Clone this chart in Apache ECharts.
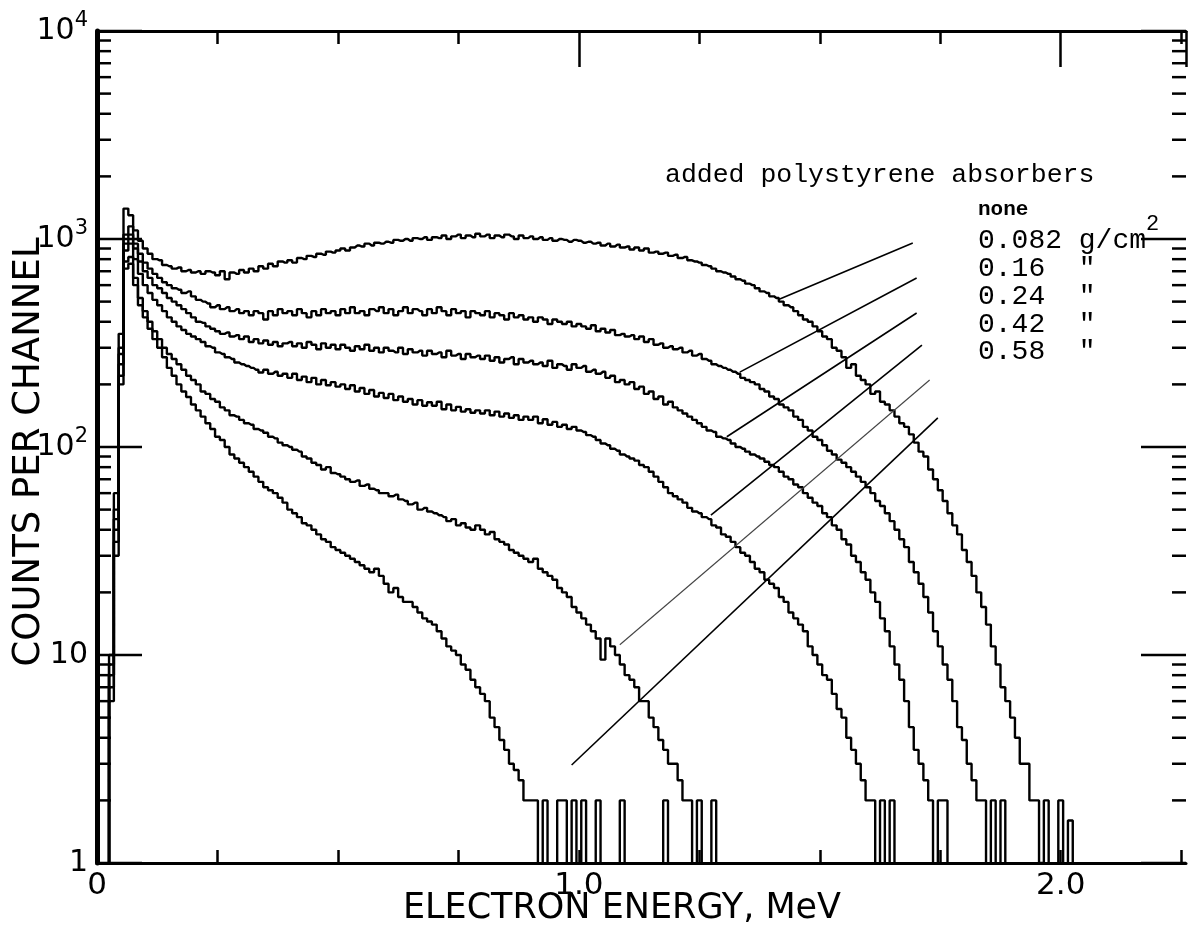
<!DOCTYPE html>
<html><head><meta charset="utf-8">
<script src="https://cdn.jsdelivr.net/npm/echarts@6/dist/echarts.min.js"></script>
<style>html,body{margin:0;padding:0;background:#fff}#c{width:1196px;height:938px}</style>
</head><body><div id="c"></div>
<script>
// channel energies (MeV)
const energy = [
0.00,0.01,0.02,0.03,0.04,0.05,0.06,0.07,0.08,0.09,
0.10,0.11,0.12,0.13,0.14,0.15,0.16,0.17,0.18,0.19,
0.20,0.21,0.22,0.23,0.24,0.25,0.26,0.27,0.28,0.29,
0.30,0.31,0.32,0.33,0.34,0.35,0.36,0.37,0.38,0.39,
0.40,0.41,0.42,0.43,0.44,0.45,0.46,0.47,0.48,0.49,
0.50,0.51,0.52,0.53,0.54,0.55,0.56,0.57,0.58,0.59,
0.60,0.61,0.62,0.63,0.64,0.65,0.66,0.67,0.68,0.69,
0.70,0.71,0.72,0.73,0.74,0.75,0.76,0.77,0.78,0.79,
0.80,0.81,0.82,0.83,0.84,0.85,0.86,0.87,0.88,0.89,
0.90,0.91,0.92,0.93,0.94,0.95,0.96,0.97,0.98,0.99,
1.00,1.01,1.02,1.03,1.04,1.05,1.06,1.07,1.08,1.09,
1.10,1.11,1.12,1.13,1.14,1.15,1.16,1.17,1.18,1.19,
1.20,1.21,1.22,1.23,1.24,1.25,1.26,1.27,1.28,1.29,
1.30,1.31,1.32,1.33,1.34,1.35,1.36,1.37,1.38,1.39,
1.40,1.41,1.42,1.43,1.44,1.45,1.46,1.47,1.48,1.49,
1.50,1.51,1.52,1.53,1.54,1.55,1.56,1.57,1.58,1.59,
1.60,1.61,1.62,1.63,1.64,1.65,1.66,1.67,1.68,1.69,
1.70,1.71,1.72,1.73,1.74,1.75,1.76,1.77,1.78,1.79,
1.80,1.81,1.82,1.83,1.84,1.85,1.86,1.87,1.88,1.89,
1.90,1.91,1.92,1.93,1.94,1.95,1.96,1.97,1.98,1.99,
2.00,2.01,2.02,2.03,2.04,2.05,2.06,2.07,2.08,2.09,2.10];
// counts per channel (0.5 = empty channel, drawn below the axis)
const countsNone = [
0.5,0.5,0.5,10,60,350,1400,1300,1100,980,
900,850,800,790,750,740,720,730,700,710,
690,700,680,700,690,670,700,640,690,680,
710,690,720,700,740,720,760,740,780,770,
790,770,810,800,830,820,850,840,870,860,
880,900,880,910,930,920,950,930,960,950,
970,960,990,980,1000,980,1010,1000,1020,990,
1020,1010,1040,1000,1030,1050,1010,1040,1020,1060,
1030,1050,1010,1040,1020,1050,1030,1000,1040,1010,
1030,1000,1020,990,1010,980,1000,990,970,990,
980,960,970,950,960,930,950,920,940,910,
920,890,910,880,900,860,870,850,860,830,
840,810,820,790,780,770,750,740,720,700,
690,680,660,640,630,610,600,580,560,550,
530,520,500,480,470,450,430,410,400,380,
360,340,330,300,290,270,240,250,220,210,
200,180,185,165,160,150,140,130,125,115,
105,95,90,78,70,62,55,48,42,38,
32,28,24,20,17,14,11,9,7,6,
5,4,3,3,2,2,1,2,0.5,0.5,
2,0.5,1.6,0.5];
const counts082 = [
0.5,0.5,0.5,9,50,300,1050,1150,950,850,
770,720,680,650,620,600,580,570,550,560,
530,510,500,490,470,480,460,470,450,460,
440,450,430,450,440,410,450,430,460,440,
450,430,460,440,420,450,430,460,440,450,
430,460,440,470,440,450,430,460,450,470,
440,460,430,450,470,440,460,450,430,460,
440,470,450,430,460,440,450,420,450,440,
430,450,420,440,430,410,440,420,430,410,
420,400,420,410,390,410,400,390,400,380,
390,380,370,385,360,370,355,365,345,350,
340,345,330,340,320,330,310,315,300,305,
295,300,285,290,275,280,265,260,250,245,
240,235,230,225,215,210,205,200,190,185,
175,170,160,155,150,140,135,125,120,112,
108,102,96,92,87,84,80,76,72,68,
64,60,55,52,48,44,40,36,33,28,
25,22,19,16,13,11,9,7.6,6,4.5,
3.9,3,2.5,2,2,0.5,2,0.5,2,0.5];
const counts16 = [
0.5,0.5,0.5,8,45,280,950,1050,900,780,
700,650,600,580,550,520,500,480,460,440,
420,400,395,380,370,360,350,355,340,345,
330,340,320,330,315,325,310,320,305,315,
320,305,315,300,320,310,295,315,300,310,
295,310,300,290,305,295,310,290,300,285,
300,290,285,300,280,295,285,290,275,290,
280,285,270,290,275,280,265,280,270,275,
265,275,260,270,255,265,270,250,265,255,
260,250,255,245,260,240,250,245,235,250,
240,245,230,235,225,230,215,220,205,210,
200,205,190,195,180,185,170,175,160,165,
155,150,145,140,135,130,125,120,118,112,
110,108,104,100,98,95,92,90,88,85,
82,80,76,72,70,66,64,60,57,54,
52,48,46,42,40,36,34,30,28,25,
23,20,18,15,13,11,9,7.6,6,4.5,
3.5,3,2.5,2,0.5,2,2,0.5];
const counts24 = [
0.5,0.5,0.5,8,40,250,880,950,800,680,
600,550,510,480,450,420,400,380,365,350,
340,330,320,305,300,285,280,270,265,255,
250,245,240,235,228,235,225,230,220,225,
215,225,210,218,205,215,200,210,198,205,
195,200,190,198,185,192,180,188,175,182,
172,180,168,175,165,170,160,168,158,164,
158,165,152,160,150,156,148,152,146,150,
145,150,142,148,140,145,138,142,135,140,
135,140,130,136,128,132,125,128,122,125,
120,118,114,112,108,104,102,98,96,92,
90,88,86,82,80,76,72,68,64,60,
58,56,54,51,49,48,46,45,42,41,
38,37,35,33,31,30,28,26,25,23,
22,21,19,18,16,15,14,13,11,10,
9,8,7.6,6.5,5.5,5,4,3.5,3,2.5,
2,2,0.5,2,0.5,2,0.5];
const counts42 = [
0.5,0.5,0.5,7,35,220,780,820,650,520,
450,400,360,330,300,280,265,250,235,220,
210,200,185,180,170,165,155,150,142,140,
135,130,128,122,120,117,112,110,105,102,
100,97,95,90,88,84,82,78,80,75,
74,72,70,68,69,65,66,63,62,60,
60,58,59,56,55,53,54,50,51,49,
48,47,46,44,45,42,43,41,40,42,
40,38,39,36,35,34,32,31,30,29,
28,29,26,25,24,23,21,20,19,17,
16,15,14,13,12,9.5,12,11,10,9,
8,7.6,7,6,6,5,4.5,3.9,3.5,3,
3,2.5,2,2,0.5,2,0.5,0.5,2,0.5];
const counts58 = [
0.5,0.5,0.5,6,30,200,720,760,600,480,
420,370,330,300,270,240,220,200,185,174,
160,150,140,130,122,112,108,100,92,88,
84,80,76,72,68,64,62,60,57,54,
50,48,46,43,42,40,38,36,35,33,
32,31,30,29,28,27,26,25,26,24,
22,20,21,19,18,18,17,16,15,14.5,
14,13,12,11,10.5,10,9,8.5,7.6,7,
6.5,6,5,4.5,3.9,3.5,3,2.8,2.5,2,
2,2,0.5,2,0.5,0.5,2,2,0.5,2,
0.5,2,0.5,0.5,2,0.5,0.5,0.5,0.5,2,
0.5,0.5,0.5,0.5,0.5,0.5,0.5,0.5,2,0.5];
const seriesNames = ['none','0.082 g/cm2','0.16 g/cm2','0.24 g/cm2','0.42 g/cm2','0.58 g/cm2'];
const legendTitle = 'added polystyrene absorbers';
const legendLabels = ['none','0.082 g/cm','0.16  "','0.24  "','0.42  "','0.58  "'];
// leader lines: [energy, counts] on the curve -> [energy, counts] beside the legend
const leaderFrom = [[1.417,515],[1.334,229],[1.307,112],[1.274,47],[1.085,11.2],[0.985,2.96]];
const leaderTo = [[1.693,957],[1.701,649],[1.701,441],[1.712,309],[1.728,210],[1.745,138]];
const xTickLabels = {0:'0',1:'1.0',2:'2.0'};
const yTickLabels = {1:'1',10:'10',100:'10{s|2}',1000:'10{s|3}',10000:'10{s|4}'};
const majorTickValues = [1,10,100,1000,10000];
const minorTickValues = [2,3,4,5,6,7,8,9,20,30,40,50,60,70,80,90,200,300,400,500,600,700,800,900,2000,3000,4000,5000,6000,7000,8000,9000];

const X_MAX = 2.26;
const allCounts = [countsNone,counts082,counts16,counts24,counts42,counts58];
const chart = echarts.init(document.getElementById('c'), null, {renderer:'canvas'});
const FONT = 'DejaVu Sans';

const series = allCounts.map((arr, k) => ({
  name: seriesNames[k], type: 'line', step: 'middle', symbol: 'none', clip: true,
  data: arr.map((c, i) => [energy[i], c]),
  lineStyle: {color: '#000', width: 2.4}, z: 3,
  markLine: k === 0 ? {
    silent: true, symbol: 'none', label: {show: false},
    lineStyle: {color: '#000', width: 1.6, type: 'solid'},
    data: leaderFrom.map((p, j) => [{coord: p, lineStyle: j === 4 ? {width: 1.1, color: '#444'} : {}}, {coord: leaderTo[j]}])
  } : undefined
}));
function tickSeries(values, len) {
  return {
    type: 'custom', silent: true, clip: false, z: 5,
    data: values.map(v => [0, v]),
    renderItem: function (params, api) {
      const v = api.value(1);
      const pL = api.coord([0, v]);
      const pR = api.coord([X_MAX, v]);
      const st = {stroke: '#000', lineWidth: 2.5};
      return {type: 'group', children: [
        {type: 'line', shape: {x1: pL[0], y1: pL[1], x2: pL[0] + len, y2: pL[1]}, style: st},
        {type: 'line', shape: {x1: pR[0], y1: pR[1], x2: pR[0] - len, y2: pR[1]}, style: st}
      ]};
    }
  };
}
series.push(tickSeries(minorTickValues, 14));
series.push(tickSeries(majorTickValues, 45));

const graphics = [{
  type: 'text', left: 665, top: 161,
  style: {text: legendTitle, font: '26.5px "Liberation Mono"', fill: '#000'}
}];
legendLabels.forEach((t, j) => {
  graphics.push({type: 'text', left: 978, top: 199 + j * 27.8,
    style: {text: t, font: (j === 0 ? 'bold 21px' : '28px') + ' "Liberation Mono"', fill: '#000'}});
});
graphics.push({type: 'text', left: 1146, top: 213, style: {text: '2', font: '22px "Liberation Mono"', fill: '#000'}});
graphics.push({type: 'text', x: 29, y: 452, rotation: Math.PI / 2,
  style: {text: 'COUNTS PER CHANNEL', font: '37px "DejaVu Sans"', fill: '#000', textAlign: 'center', textVerticalAlign: 'middle'}});
graphics.push({type: 'text', x: 622, y: 909,
  style: {text: 'ELECTRON ENERGY, MeV', font: '35px "DejaVu Sans"', fill: '#000', textAlign: 'center', textVerticalAlign: 'middle'}});

const option = {
  animation: false,
  backgroundColor: '#fff',
  grid: {left: 97, right: 10, top: 31, bottom: 75, containLabel: false},
  xAxis: [
    {type: 'value', position: 'bottom', min: 0, max: X_MAX, interval: 0.25,
     axisLine: {show: true, lineStyle: {color: '#000', width: 3}},
     axisTick: {show: true, inside: true, length: 13, lineStyle: {color: '#000', width: 2.5}},
     splitLine: {show: false},
     axisLabel: {show: true, margin: 7, color: '#000', fontFamily: FONT, fontSize: 31,
       formatter: v => (Math.abs(v - Math.round(v)) < 1e-6 && xTickLabels[Math.round(v)] !== undefined) ? xTickLabels[Math.round(v)] : '',
       showMaxLabel: false}},
    {type: 'value', position: 'top', min: 0, max: X_MAX, interval: 0.25,
     axisLine: {show: true, lineStyle: {color: '#000', width: 3}},
     axisTick: {show: true, inside: true, length: 13, lineStyle: {color: '#000', width: 2.5}},
     axisLabel: {show: false}, splitLine: {show: false}},
    {type: 'value', position: 'top', min: 0, max: X_MAX, interval: 1,
     axisLine: {show: false},
     axisTick: {show: true, inside: true, length: 36, lineStyle: {color: '#000', width: 2.5}},
     axisLabel: {show: false}, splitLine: {show: false}}
  ],
  yAxis: [
    {type: 'log', logBase: 10, min: 1, max: 10000, position: 'left',
     axisLine: {show: true, lineStyle: {color: '#000', width: 5}},
     axisTick: {show: false}, splitLine: {show: false}, minorTick: {show: false},
     axisLabel: {show: true, margin: 9, color: '#000', fontFamily: FONT, fontSize: 30,
       formatter: v => yTickLabels[Math.round(v)] || '',
       rich: {s: {fontFamily: FONT, fontSize: 21, padding: [0, 0, 20, 0], verticalAlign: 'bottom'}}}},
    {type: 'log', logBase: 10, min: 1, max: 10000, position: 'right',
     axisLine: {show: true, lineStyle: {color: '#000', width: 3}},
     axisTick: {show: false}, splitLine: {show: false}, axisLabel: {show: false}}
  ],
  series: series,
  graphic: graphics
};
chart.setOption(option);
</script>
</body></html>
